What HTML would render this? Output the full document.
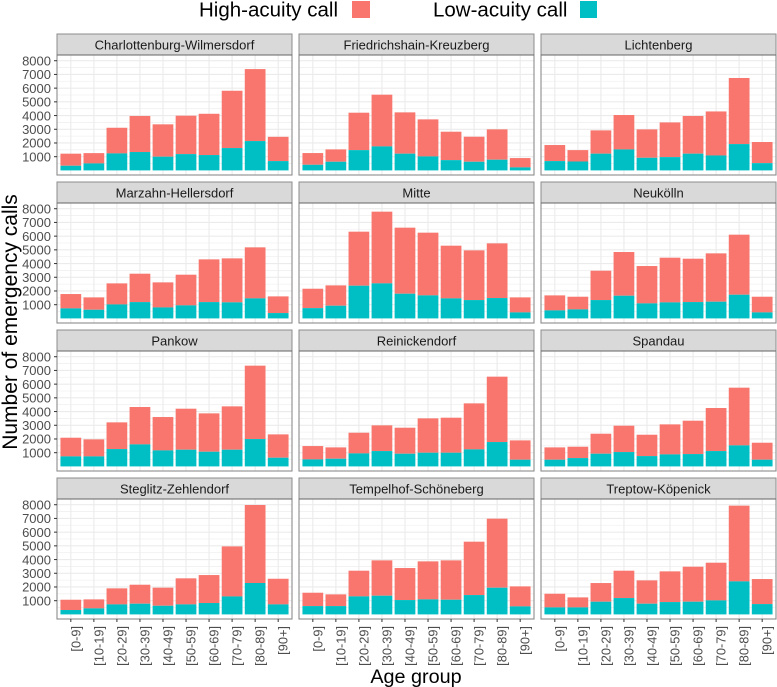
<!DOCTYPE html>
<html lang="en">
<head>
<meta charset="utf-8">
<title>Emergency calls by age group and district</title>
<style>
html,body{margin:0;padding:0;background:#fff;}
svg{display:block;font-family:"Liberation Sans",sans-serif;}
</style>
</head>
<body>
<svg id="chart" xmlns="http://www.w3.org/2000/svg" width="777" height="687" viewBox="0 0 777 687">
  <rect x="0" y="0" width="777" height="687" fill="#ffffff"/>
  <g>
    <text x="199" y="16.5" font-size="20.5" fill="#000">High-acuity call</text>
    <rect x="352" y="1" width="18" height="17" fill="#F8766D"/>
    <text x="433" y="16.5" font-size="20.5" fill="#000">Low-acuity call</text>
    <rect x="580" y="1" width="17" height="17" fill="#00BFC4"/>
  </g>
  <text transform="translate(17,322) rotate(-90)" text-anchor="middle" font-size="21" fill="#000">Number of emergency calls</text>
  <text x="416" y="683" text-anchor="middle" font-size="19.8" fill="#000">Age group</text>
  <g id="panels"></g>
</svg>
<script>
const districts = ["Charlottenburg-Wilmersdorf","Friedrichshain-Kreuzberg","Lichtenberg","Marzahn-Hellersdorf","Mitte","Neukölln","Pankow","Reinickendorf","Spandau","Steglitz-Zehlendorf","Tempelhof-Schöneberg","Treptow-Köpenick"];
const ageGroups = ["[0-9]","[10-19]","[20-29]","[30-39]","[40-49]","[50-59]","[60-69]","[70-79]","[80-89]","[90+]"];
const yTicks = [1000,2000,3000,4000,5000,6000,7000,8000];
const yMinorTicks = [500,1500,2500,3500,4500,5500,6500,7500];

const lowCharlottenburg = [340,510,1240,1340,1000,1190,1120,1630,2140,680];
const highCharlottenburg = [880,750,1870,2630,2360,2800,3010,4180,5250,1770];
const lowFriedrichshain = [410,630,1480,1750,1220,1020,750,630,780,220];
const highFriedrichshain = [855,903,2729,3773,3013,2702,2072,1827,2213,680];
const lowLichtenberg = [680,650,1220,1530,920,970,1220,1090,1920,530];
const highLichtenberg = [1170,830,1700,2510,2070,2530,2750,3210,4820,1540];
const lowMarzahn = [730,630,1020,1190,800,950,1190,1170,1460,390];
const highMarzahn = [1046,903,1535,2070,1828,2237,3116,3209,3722,1216];
const lowMitte = [750,925,2384,2555,1800,1679,1460,1338,1484,438];
const highMitte = [1415,1484,3942,5231,4818,4574,3844,3625,3990,1095];
const lowNeukoelln = [584,657,1338,1654,1095,1168,1192,1217,1727,438];
const highNeukoelln = [1095,924,2141,3188,2725,3260,3163,3527,4380,1143];
const lowPankow = [730,730,1265,1606,1168,1217,1070,1217,1995,633];
const highPankow = [1362,1241,1947,2725,2433,2992,2798,3162,5353,1703];
const lowReinickendorf = [511,560,949,1119,925,998,998,1241,1776,487];
const highReinickendorf = [973,827,1508,1874,1897,2506,2554,3357,4769,1411];
const lowSpandau = [487,608,925,1046,754,876,900,1119,1533,487];
const highSpandau = [900,827,1459,1922,1557,2190,2433,3139,4209,1240];
const lowSteglitz = [320,440,730,780,630,730,830,1310,2290,730];
const highSteglitz = [750,655,1170,1385,1320,1900,2040,3650,5690,1870];
const lowTempelhof = [608,608,1314,1362,1046,1095,1070,1411,1946,584];
const highTempelhof = [973,852,1873,2579,2336,2773,2871,3893,5037,1460];
const lowTreptow = [511,511,925,1192,779,900,925,1022,2409,754];
const highTreptow = [997,730,1362,1995,1703,2239,2554,2749,5523,1825];

const lowSeries = [lowCharlottenburg,lowFriedrichshain,lowLichtenberg,lowMarzahn,lowMitte,lowNeukoelln,lowPankow,lowReinickendorf,lowSpandau,lowSteglitz,lowTempelhof,lowTreptow];
const highSeries = [highCharlottenburg,highFriedrichshain,highLichtenberg,highMarzahn,highMitte,highNeukoelln,highPankow,highReinickendorf,highSpandau,highSteglitz,highTempelhof,highTreptow];

const SVG_NS = "http://www.w3.org/2000/svg";
const root = document.getElementById("panels");
const COLS = 3, ROWS = 4;
const panelW = 235, panelH = 120, stripH = 21;
const pxPer1000 = 13.71;
const step = 23.04;

function make(parent, tag, attrs, text) {
  const node = document.createElementNS(SVG_NS, tag);
  for (const k in attrs) node.setAttribute(k, attrs[k]);
  if (text !== undefined) node.textContent = text;
  parent.appendChild(node);
  return node;
}
function panelLeft(col) { return 57 + col * 242; }
function panelTop(row) { return 55 + row * 148; }
function xScale(left, i) { return left + step * (i + 0.6); }
function yScale(top, v) { return top + 115.4 - v * pxPer1000 / 1000; }

districts.forEach(function (name, idx) {
  const col = idx % COLS;
  const row = Math.floor(idx / COLS);
  const left = panelLeft(col);
  const top = panelTop(row);
  const slug = name.toLowerCase().replace(/[^a-z]+/g, "-");

  const g = make(root, "g", {});
  
  

  const strip = make(g, "rect", {x:left, y:top-stripH, width:panelW, height:stripH, fill:"#d9d9d9", stroke:"#8c8c8c", "stroke-width":1});
  
  

  const stripLabel = make(g, "text", {x:left+panelW/2, y:top-stripH+15.3, "text-anchor":"middle", "font-size":"13", fill:"#1a1a1a"}, name);
  
  

  const bg = make(g, "rect", {x:left, y:top, width:panelW, height:panelH, fill:"#ffffff"});
  
  

  yMinorTicks.forEach(function (t) {
    const y = yScale(top, t);
    const line = make(g, "line", {x1:left, x2:left+panelW, y1:y, y2:y, stroke:"#f1f1f1", "stroke-width":0.8});
    
    
  });
  yTicks.forEach(function (t) {
    const y = yScale(top, t);
    const line = make(g, "line", {x1:left, x2:left+panelW, y1:y, y2:y, stroke:"#ebebeb", "stroke-width":1.1});
    
    
  });
  ageGroups.forEach(function (a, i) {
    const x = xScale(left, i);
    const line = make(g, "line", {x1:x, x2:x, y1:top, y2:top+panelH, stroke:"#ebebeb", "stroke-width":1.1});
    
    
  });

  const bw = step * 0.9;
  ageGroups.forEach(function (a, i) {
    const x = xScale(left, i) - bw / 2;
    const low = lowSeries[idx][i];
    const high = highSeries[idx][i];
    const y0 = yScale(top, 0);
    const y1 = yScale(top, low);
    const y2 = yScale(top, low + high);
    const hb = make(g, "rect", {x:x, y:y2, width:bw, height:y1-y2, fill:"#F8766D"});
    
    
    const lb = make(g, "rect", {x:x, y:y1, width:bw, height:y0-y1, fill:"#00BFC4"});
    
    
  });

  const border = make(g, "rect", {x:left, y:top, width:panelW, height:panelH, fill:"none", stroke:"#8c8c8c", "stroke-width":1.1});
  
  

  const stripEdge = make(g, "line", {x1:left, x2:left+panelW, y1:top, y2:top, stroke:"#6e6e6e", "stroke-width":1.1});
  
  

  if (col === 0) {
    yTicks.forEach(function (t) {
      const y = yScale(top, t);
      const tick = make(g, "line", {x1:left-3, x2:left, y1:y, y2:y, stroke:"#333333", "stroke-width":1});
      
      
      const lbl = make(g, "text", {x:left-6, y:y+4.7, "text-anchor":"end", "font-size":"13", fill:"#4d4d4d"}, String(t));
      
      
    });
  }
  if (row === ROWS - 1) {
    ageGroups.forEach(function (a, i) {
      const x = xScale(left, i);
      const tick = make(g, "line", {x1:x, x2:x, y1:top+panelH, y2:top+panelH+3, stroke:"#333333", "stroke-width":1});
      
      
      const lbl = make(g, "text", {transform:"translate(" + (x+9.5) + "," + (top+panelH+7) + ") rotate(-90)", "text-anchor":"end", "font-size":"12.8", fill:"#4d4d4d"}, a);
      
      
    });
  }
});
</script>
</body>
</html>
